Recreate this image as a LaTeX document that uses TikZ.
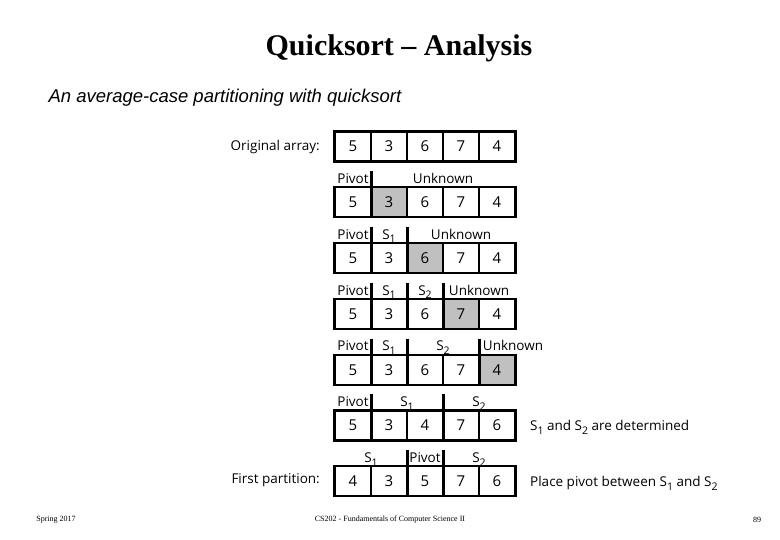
\documentclass[tikz,border=0pt]{standalone}
\usepackage{fontspec}
\setmainfont{Liberation Serif}
\newfontfamily\arialf{Liberation Sans}
\newfontfamily\segoef{Open Sans}
\newcommand\lowidx[1]{\raisebox{-3.5pt}{\fontsize{10.5}{10}\selectfont #1}}
\definecolor{shade}{RGB}{192,192,192}
\begin{document}
\begin{tikzpicture}[x=1pt,y=-1pt,
  cell/.style={draw=black,line width=1.2pt,minimum width=36pt,minimum height=29pt,inner sep=0pt,text height=11pt,text depth=0pt,font=\segoef\fontsize{15}{15}\selectfont},
  rowbox/.style={draw=black,line width=2pt},
  bar/.style={draw=black,line width=3.4pt},
  lbl/.style={anchor=base,inner sep=0pt,font=\segoef\fontsize{13.5}{14}\selectfont},
  side/.style={anchor=base west,inner sep=0pt,font=\segoef\fontsize{13.5}{14}\selectfont}]
\useasboundingbox (0,0) rectangle (780,540);
\node[font=\bfseries\fontsize{30}{32}\selectfont] (title) at (399,48) {Quicksort -- Analysis};
\node[anchor=west,font=\arialf\itshape\fontsize{18.5}{20}\selectfont] (subtitle) at (45,98) {An average-case partitioning with quicksort};
% rows
\foreach \r/\top/\vals in {
  1/132/{5/white,3/white,6/white,7/white,4/white},
  2/187.8/{5/white,3/shade,6/white,7/white,4/white},
  3/243.6/{5/white,3/white,6/shade,7/white,4/white},
  4/299.4/{5/white,3/white,6/white,7/shade,4/white},
  5/355.2/{5/white,3/white,6/white,7/white,4/shade},
  6/411/{5/white,3/white,4/white,7/white,6/white},
  7/466.8/{4/white,3/white,5/white,7/white,6/white}}{
  \foreach \v/\fc [count=\c] in \vals {
    \node[cell,fill=\fc] (r\r c\c) at ({353+36*(\c-1)},{\top+14.5}) {\v};
  }
  \draw[rowbox] (r\r c1.north west) rectangle (r\r c5.south east);
}
% bars
\foreach \r/\c in {2/1,3/1,3/2,4/1,4/2,4/3,5/1,5/2,5/4,6/1,6/3,7/2,7/3}{
  \draw[bar] ([yshift=16pt]r\r c\c.north east) -- (r\r c\c.south east);
}
% labels row 2
\node[lbl] (p2) at (353,183.5) {Pivot};
\node[lbl] (u2) at (443,183.5) {Unknown};
% row 3
\node[lbl] (p3) at (353,239.3) {Pivot};
\node[lbl] (s13) at (389,239.3) {S\lowidx{1}};
\node[lbl] (u3) at (461,239.3) {Unknown};
% row 4
\node[lbl] (p4) at (353,295.1) {Pivot};
\node[lbl] (s14) at (389,295.1) {S\lowidx{1}};
\node[lbl] (s24) at (425,295.1) {S\lowidx{2}};
\node[lbl] (u4) at (479,295.1) {Unknown};
% row 5
\node[lbl] (p5) at (353,350.9) {Pivot};
\node[lbl] (s15) at (389,350.9) {S\lowidx{1}};
\node[lbl] (s25) at (443,350.9) {S\lowidx{2}};
\node[lbl] (u5) at (513,350.9) {Unknown};
% row 6
\node[lbl] (p6) at (353,406.7) {Pivot};
\node[lbl] (s16) at (407,406.7) {S\lowidx{1}};
\node[lbl] (s26) at (479,406.7) {S\lowidx{2}};
% row 7
\node[lbl] (s17) at (371,462.5) {S\lowidx{1}};
\node[lbl] (p7) at (425,462.5) {Pivot};
\node[lbl] (s27) at (479,462.5) {S\lowidx{2}};
% side texts
\node[side,anchor=base east] (orig) at (320,151) {Original array:};
\node[side,anchor=base east] (first) at (320,483) {First partition:};
\node[side] (det) at (530,430.5) {S\lowidx{1} and S\lowidx{2} are determined};
\node[side] (place) at (530,486.5) {Place pivot between S\lowidx{1} and S\lowidx{2}};
% footer
\node[font=\fontsize{8}{9}\selectfont] (f1) at (56,520) {Spring 2017};
\node[font=\fontsize{8}{9}\selectfont] (f2) at (390,520) {CS202 - Fundamentals of Computer Science II};
\node[font=\fontsize{8}{9}\selectfont] (f3) at (757,520) {89};
\end{tikzpicture}
\end{document}
